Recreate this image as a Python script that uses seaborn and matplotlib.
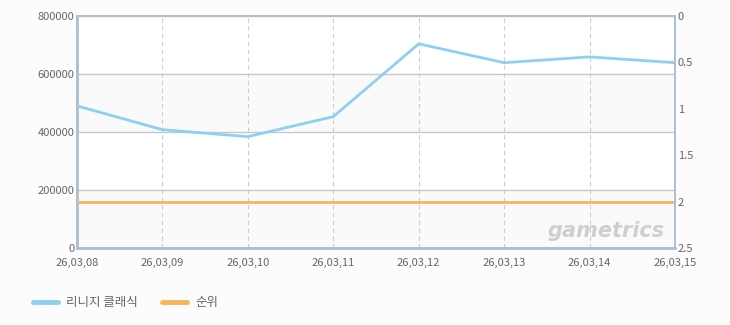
import matplotlib
matplotlib.use("Agg")
import matplotlib.pyplot as plt
import seaborn as sns
import pandas as pd

dates = ["26,03,08", "26,03,09", "26,03,10", "26,03,11", "26,03,12", "26,03,13", "26,03,14", "26,03,15"]
users = [490000, 408000, 384000, 453000, 704000, 639000, 659000, 639000]
rank = [2, 2, 2, 2, 2, 2, 2, 2]
series_name = "리니지 클래식"
rank_name = "순위"
left_ticks = [0, 200000, 400000, 600000, 800000]
right_ticks = [0, 0.5, 1, 1.5, 2, 2.5]

sns.set_theme(style="white")
plt.rcParams['font.family'] = ['Noto Sans CJK KR', 'DejaVu Sans']

df = pd.DataFrame({"x": range(len(dates)), "users": users, "rank": rank})

fig = plt.figure(figsize=(7.3, 3.25), dpi=100, facecolor="#fcfcfc")
ax = fig.add_axes([77/730, 1-248/325, (675-77)/730, (248-16)/325])
ax.set_facecolor("white")

for lo, hi in [(0, 200000), (400000, 600000)]:
    ax.axhspan(lo, hi, color="#fafafa", zorder=0)

blue = "#8fd0f0"
orange = "#f5b55a"
sns.lineplot(data=df, x="x", y="users", ax=ax, color=blue, linewidth=2, label=series_name, legend=False, zorder=3)

ax.set_xlim(0, len(dates)-1)
ax.set_ylim(0, 800000)
ax.set_yticks(left_ticks)
ax.set_yticklabels([str(v) for v in left_ticks])
ax.set_xticks(range(len(dates)))
ax.set_xticklabels(dates)
ax.set_xlabel("")
ax.set_ylabel("")
ax.grid(axis="y", color="#c8c8c8", linewidth=1, linestyle="-")
ax.grid(axis="x", color="#cccccc", linewidth=0.8, linestyle=(0, (4, 3)))
ax.set_axisbelow(True)
ax.tick_params(axis="y", labelsize=8, colors="#666666", length=0, pad=2)
ax.tick_params(axis="x", labelsize=8, colors="#666666", length=0, pad=7)

ax2 = ax.twinx()
sns.lineplot(data=df, x="x", y="rank", ax=ax2, color=orange, linewidth=2, label=rank_name, legend=False)
ax2.set_ylim(2.5, 0)
ax2.set_yticks(right_ticks)
ax2.set_yticklabels(["0", "0.5", "1", "1.5", "2", "2.5"])
ax2.set_ylabel("")
ax2.tick_params(axis="y", labelsize=8, colors="#666666", length=0, pad=2)
ax2.grid(False)

for a in (ax, ax2):
    for s in a.spines.values():
        s.set_color("#aebfd2")
        s.set_linewidth(1.2)
ax.spines["left"].set_linewidth(2)
ax.spines["bottom"].set_linewidth(2)

fig.text(0.91, 0.29, "gametrics", ha="right", va="center", fontsize=15, fontweight="bold",
         style="italic", color="#cfcfcf", family=["DejaVu Sans"])

h1, l1 = ax.get_legend_handles_labels()
h2, l2 = ax2.get_legend_handles_labels()
leg = fig.legend(h1 + h2, l1 + l2, loc="lower left", bbox_to_anchor=(0.03, 0.015), ncol=2,
                 frameon=False, fontsize=9, handlelength=2, columnspacing=2, handletextpad=0.6)
for t in leg.get_texts():
    t.set_color("#666666")
for line in leg.get_lines():
    line.set_linewidth(3.5)

fig.savefig("out.png", dpi=100, facecolor=fig.get_facecolor())
